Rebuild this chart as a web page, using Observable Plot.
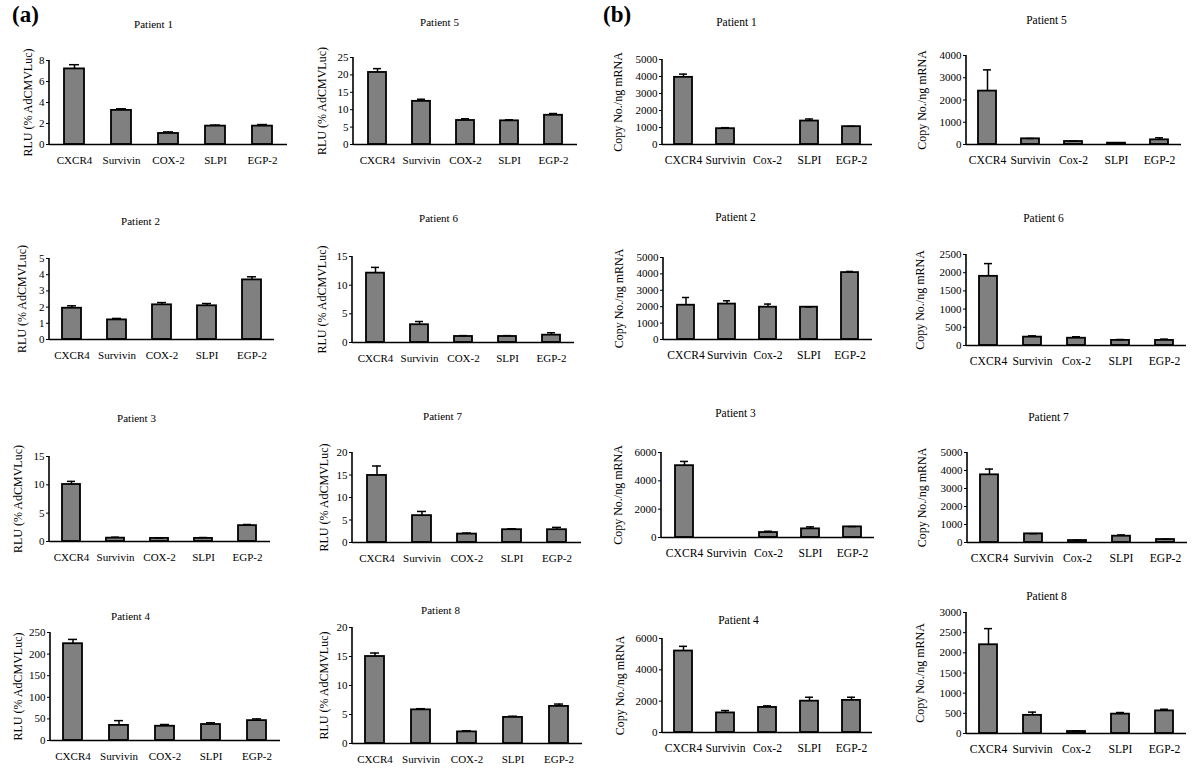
<!DOCTYPE html>
<html>
<head>
<meta charset="utf-8">
<script src="https://cdn.jsdelivr.net/npm/d3@7"></script>
<script src="https://cdn.jsdelivr.net/npm/@observablehq/plot@0.6"></script>
<style>
  html, body { margin: 0; padding: 0; background: #fff; }
  #root { position: relative; width: 1200px; height: 784px; overflow: hidden; background: #fff; }
  #root svg { position: absolute; overflow: visible; }
  #root svg, #root svg text { font-family: "Liberation Serif", "Times New Roman", serif !important; }
  .tag { position: absolute; font-family: "Liberation Serif", "Times New Roman", serif; font-weight: bold; font-size: 23px; }
</style>
</head>
<body>
<div id="root"></div>
<script>
// ---------- DATA ----------
const catsA = ["CXCR4", "Survivin", "COX-2", "SLPI", "EGP-2"];
const catsB = ["CXCR4", "Survivin", "Cox-2", "SLPI", "EGP-2"];

// (a) RLU (% AdCMVLuc): means and error (SD) per patient
const rluP1 = [7.2, 3.25, 1.05, 1.75, 1.75];   const rluErrP1 = [0.4, 0.15, 0.15, 0.1, 0.15];
const rluP2 = [1.93, 1.21, 2.14, 2.08, 3.68];  const rluErrP2 = [0.15, 0.09, 0.14, 0.14, 0.19];
const rluP3 = [10.06, 0.59, 0.55, 0.55, 2.8];  const rluErrP3 = [0.55, 0.17, 0.05, 0.15, 0.2];
const rluP4 = [224, 35, 33, 37, 46];           const rluErrP4 = [10, 11, 4, 4, 4];
const rluP5 = [20.7, 12.4, 6.9, 6.8, 8.4];     const rluErrP5 = [1.1, 0.6, 0.5, 0.3, 0.5];
const rluP6 = [12.1, 3.1, 1.05, 1.05, 1.28];   const rluErrP6 = [1.0, 0.56, 0.15, 0.15, 0.42];
const rluP7 = [14.9, 5.97, 1.87, 2.84, 2.84];  const rluErrP7 = [2.1, 0.93, 0.23, 0.22, 0.52];
const rluP8 = [15.0, 5.8, 2.0, 4.5, 6.4];      const rluErrP8 = [0.6, 0.2, 0.2, 0.2, 0.4];

// (b) Copy No./ng mRNA: means and error (SD) per patient
const cpyP1 = [3950, 930, 0, 1380, 1050];      const cpyErrP1 = [190, 60, 0, 120, 20];
const cpyP2 = [2090, 2160, 1970, 1970, 4080];  const cpyErrP2 = [470, 200, 190, 20, 70];
const cpyP3 = [5070, 0, 350, 610, 750];        const cpyErrP3 = [300, 0, 90, 140, 20];
const cpyP4 = [5200, 1250, 1600, 2000, 2050];  const cpyErrP4 = [300, 150, 100, 250, 200];
const cpyP5 = [2400, 255, 135, 60, 210];       const cpyErrP5 = [955, 15, 15, 10, 90];
const cpyP6 = [1900, 230, 200, 140, 140];      const cpyErrP6 = [350, 35, 40, 25, 35];
const cpyP7 = [3760, 480, 110, 350, 165];      const cpyErrP7 = [320, 10, 10, 70, 15];
const cpyP8 = [2200, 450, 50, 480, 560];       const cpyErrP8 = [400, 80, 10, 40, 40];

// y tick labels
const ticksA1 = [0, 2, 4, 6, 8];
const ticksA2 = [0, 1, 2, 3, 4, 5];
const ticksA3 = [0, 5, 10, 15];
const ticksA4 = [0, 50, 100, 150, 200, 250];
const ticksA5 = [0, 5, 10, 15, 20, 25];
const ticksA6 = [0, 5, 10, 15];
const ticksA7 = [0, 5, 10, 15, 20];
const ticksA8 = [0, 5, 10, 15, 20];
const ticksB1 = [0, 1000, 2000, 3000, 4000, 5000];
const ticksB2 = [0, 1000, 2000, 3000, 4000, 5000];
const ticksB3 = [0, 2000, 4000, 6000];
const ticksB4 = [0, 2000, 4000, 6000];
const ticksB5 = [0, 1000, 2000, 3000, 4000];
const ticksB6 = [0, 500, 1000, 1500, 2000, 2500];
const ticksB7 = [0, 1000, 2000, 3000, 4000, 5000];
const ticksB8 = [0, 500, 1000, 1500, 2000, 2500, 3000];

const labelA = "RLU (% AdCMVLuc)";
const labelB = "Copy No./ng mRNA";

// ---------- LAYOUT (pixel placement of each panel) ----------
const panels = [
  {title: "Patient 1", cats: catsA, v: rluP1, e: rluErrP1, ticks: ticksA1, label: labelA, ax: 49,  xr: 287,  yt: 60,  yb: 144, tx: 153,  ty: 24,  lx: 28,  kind: "a"},
  {title: "Patient 5", cats: catsA, v: rluP5, e: rluErrP5, ticks: ticksA5, label: labelA, ax: 353, xr: 577,  yt: 57,  yb: 144, tx: 439,  ty: 22,  lx: 322, kind: "a"},
  {title: "Patient 1", cats: catsB, v: cpyP1, e: cpyErrP1, ticks: ticksB1, label: labelB, ax: 662, xr: 872,  yt: 59,  yb: 144, tx: 736,  ty: 22,  lx: 618, kind: "b"},
  {title: "Patient 5", cats: catsB, v: cpyP5, e: cpyErrP5, ticks: ticksB5, label: labelB, ax: 966, xr: 1181, yt: 55,  yb: 144, tx: 1046, ty: 20,  lx: 922, kind: "b"},

  {title: "Patient 2", cats: catsA, v: rluP2, e: rluErrP2, ticks: ticksA2, label: labelA, ax: 49,  xr: 274,  yt: 258, yb: 339, tx: 140,  ty: 221, lx: 22,  kind: "a"},
  {title: "Patient 6", cats: catsA, v: rluP6, e: rluErrP6, ticks: ticksA6, label: labelA, ax: 352, xr: 574,  yt: 256, yb: 342, tx: 438,  ty: 218, lx: 322, kind: "a"},
  {title: "Patient 2", cats: catsB, v: cpyP2, e: cpyErrP2, ticks: ticksB2, label: labelB, ax: 663, xr: 872,  yt: 257, yb: 339, tx: 735,  ty: 217, lx: 619, kind: "b"},
  {title: "Patient 6", cats: catsB, v: cpyP6, e: cpyErrP6, ticks: ticksB6, label: labelB, ax: 966, xr: 1186, yt: 254, yb: 345, tx: 1043, ty: 218, lx: 920, kind: "b"},

  {title: "Patient 3", cats: catsA, v: rluP3, e: rluErrP3, ticks: ticksA3, label: labelA, ax: 49,  xr: 270,  yt: 456, yb: 541, tx: 136,  ty: 418, lx: 18,  kind: "a"},
  {title: "Patient 7", cats: catsA, v: rluP7, e: rluErrP7, ticks: ticksA7, label: labelA, ax: 352, xr: 581,  yt: 452, yb: 542, tx: 442,  ty: 416, lx: 324, kind: "a"},
  {title: "Patient 3", cats: catsB, v: cpyP3, e: cpyErrP3, ticks: ticksB3, label: labelB, ax: 661, xr: 874,  yt: 452, yb: 537, tx: 735,  ty: 413, lx: 618, kind: "b"},
  {title: "Patient 7", cats: catsB, v: cpyP7, e: cpyErrP7, ticks: ticksB7, label: labelB, ax: 967, xr: 1187, yt: 452, yb: 542, tx: 1048, ty: 417, lx: 922, kind: "b"},

  {title: "Patient 4", cats: catsA, v: rluP4, e: rluErrP4, ticks: ticksA4, label: labelA, ax: 50,  xr: 280,  yt: 632, yb: 740, tx: 130,  ty: 616, lx: 18,  kind: "a"},
  {title: "Patient 8", cats: catsA, v: rluP8, e: rluErrP8, ticks: ticksA8, label: labelA, ax: 352, xr: 582,  yt: 627, yb: 743, tx: 440,  ty: 610, lx: 324, kind: "a"},
  {title: "Patient 4", cats: catsB, v: cpyP4, e: cpyErrP4, ticks: ticksB4, label: labelB, ax: 662, xr: 872,  yt: 638, yb: 732, tx: 738,  ty: 620, lx: 620, kind: "b"},
  {title: "Patient 8", cats: catsB, v: cpyP8, e: cpyErrP8, ticks: ticksB8, label: labelB, ax: 966, xr: 1186, yt: 612, yb: 733, tx: 1046, ty: 596, lx: 920, kind: "b"}
];

const root = document.getElementById("root");
const ML = 62, MR = 6, MT = 48, MB = 30;
const FONT = "'Liberation Serif', 'Times New Roman', serif";

function leftAxisLine(index, scales, values, dims) {
  return d3.create("svg:line")
    .attr("x1", dims.marginLeft).attr("x2", dims.marginLeft)
    .attr("y1", dims.marginTop).attr("y2", dims.height - dims.marginBottom)
    .attr("stroke", "black").attr("stroke-width", 1.6).node();
}

for (const p of panels) {
  const data = p.cats.map((c, i) => ({cat: c, v: p.v[i], e: p.e[i]}));
  const ymax = p.ticks[p.ticks.length - 1];
  const fw = p.xr - p.ax, fh = p.yb - p.yt;
  const catFont = p.kind === "a" ? 11 : 11.6;
  const chart = Plot.plot({
    width: fw + ML + MR,
    height: fh + MT + MB,
    marginLeft: ML, marginRight: MR, marginTop: MT, marginBottom: MB,
    style: {fontFamily: FONT, fontSize: "11px", background: "transparent", color: "black"},
    x: {type: "band", domain: p.cats, paddingInner: 0.58, paddingOuter: 0.29},
    y: {domain: [0, ymax]},
    marks: [
      Plot.barY(data, {x: "cat", y: "v", fill: "#808080", stroke: "black", strokeWidth: 1.8}),
      Plot.ruleX(data, {filter: d => d.e > 0, x: "cat", y1: "v", y2: d => d.v + d.e, stroke: "black", strokeWidth: 1.5}),
      Plot.tickY(data, {filter: d => d.e > 0, x: "cat", y: d => d.v + d.e, stroke: "black", strokeWidth: 1.5, insetLeft: 5, insetRight: 5}),
      Plot.ruleY([0], {stroke: "black", strokeWidth: 1.6}),
      leftAxisLine,
      Plot.axisY({ticks: p.ticks, tickFormat: d => String(d), tickSize: 3, tickPadding: 2, fontSize: 11, fontFamily: FONT, label: null}),
      Plot.axisX({tickSize: 0, tickPadding: p.kind === "a" ? 12 : 11, fontSize: catFont, fontFamily: FONT, label: null}),
      Plot.text([p.title], {text: d => d, frameAnchor: "top-left", dx: p.tx - p.ax, dy: p.ty - p.yt, fontSize: p.kind === "a" ? 11 : 11.5, fontFamily: FONT, textAnchor: "middle", lineAnchor: "middle"}),
      Plot.text([p.label], {text: d => d, frameAnchor: "left", dx: p.lx - p.ax, rotate: -90, fontSize: 12, fontFamily: FONT, textAnchor: "middle", lineAnchor: "middle"})
    ]
  });
  chart.style.left = (p.ax - ML) + "px";
  chart.style.top = (p.yt - MT) + "px";
  root.appendChild(chart);
}

const ta = document.createElement("div");
ta.className = "tag"; ta.textContent = "(a)"; ta.style.left = "12px"; ta.style.top = "2px";
root.appendChild(ta);
const tb = document.createElement("div");
tb.className = "tag"; tb.textContent = "(b)"; tb.style.left = "603px"; tb.style.top = "2px";
root.appendChild(tb);
</script>
</body>
</html>
